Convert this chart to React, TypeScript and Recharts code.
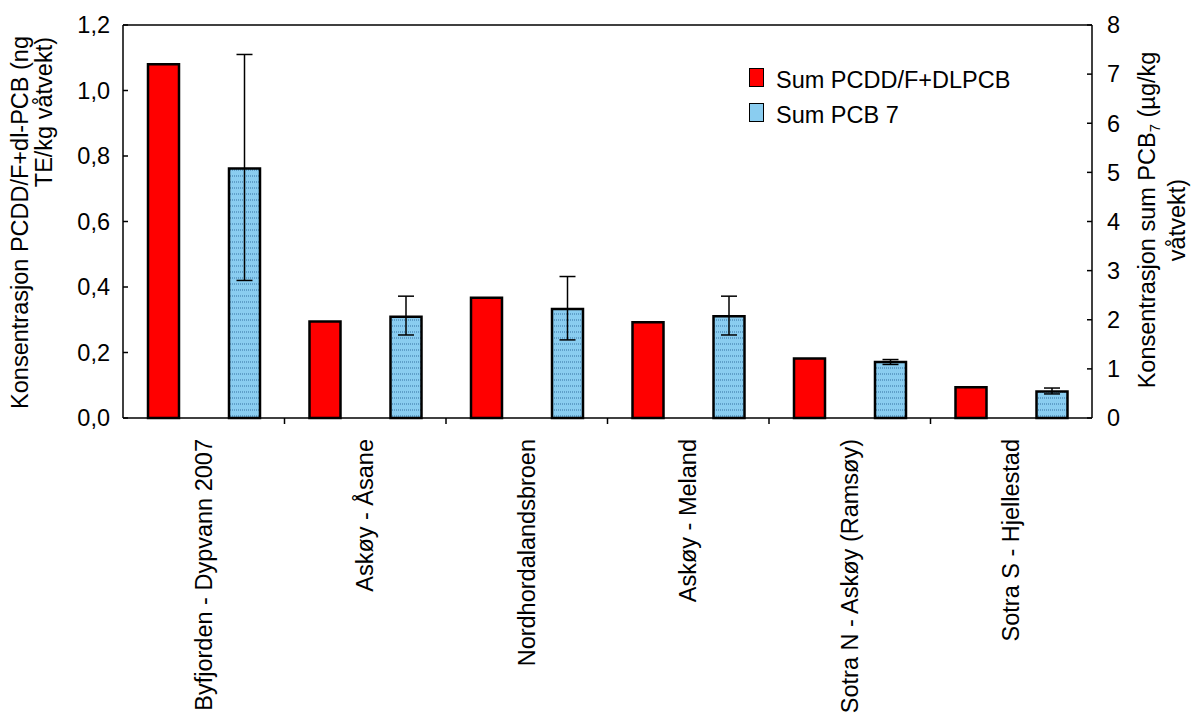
import React from "react";
import {
  ComposedChart,
  Bar,
  XAxis,
  YAxis,
  ErrorBar,
  ReferenceLine,
} from "recharts";

const categories = [
  "Byfjorden - Dypvann 2007",
  "Askøy - Åsane",
  "Nordhordalandsbroen",
  "Askøy - Meland",
  "Sotra N - Askøy (Ramsøy)",
  "Sotra S - Hjellestad",
];

// Sum PCDD/F+DLPCB (ng TE/kg våtvekt), left axis
const pcddValues = [1.08, 0.295, 0.367, 0.292, 0.182, 0.094];
// Sum PCB 7 (µg/kg våtvekt), right axis, with min/max whiskers
const pcbValues = [5.08, 2.06, 2.22, 2.07, 1.14, 0.54];
const pcbLow = [2.8, 1.69, 1.59, 1.69, 1.09, 0.49];
const pcbHigh = [7.4, 2.48, 2.88, 2.48, 1.19, 0.61];

const leftTicks = [0, 0.2, 0.4, 0.6, 0.8, 1.0, 1.2];
const rightTicks = [0, 1, 2, 3, 4, 5, 6, 7, 8];

const legendItems = [
  { label: "Sum PCDD/F+DLPCB", fill: "#ff0000" },
  { label: "Sum PCB 7", fill: "#8acdf0" },
];

const data = categories.map((name, i) => ({
  name,
  pcdd: pcddValues[i],
  pcb7: pcbValues[i],
  pcbErr: [pcbValues[i] - pcbLow[i], pcbHigh[i] - pcbValues[i]],
}));

const FONT = "Arial, 'Liberation Sans', sans-serif";
const FS = 23.5;
const PLOT_LEFT = 123;
const PLOT_RIGHT = 1092;
const BAND = (PLOT_RIGHT - PLOT_LEFT) / categories.length;

const CategoryTick = (props: any) => {
  const { x, y, payload, index } = props;
  const ty = y + 21;
  return (
    <g>
      {index < categories.length - 1 && (
        <line
          x1={x + BAND / 2}
          x2={x + BAND / 2}
          y1={y}
          y2={y + 6}
          stroke="#000"
          strokeWidth={1.5}
        />
      )}
      <text
        x={x}
        y={ty}
        transform={`rotate(-90, ${x}, ${ty})`}
        textAnchor="end"
        dy="0.35em"
        fontSize={FS}
        fontFamily={FONT}
        fill="#000"
      >
        {payload.value}
      </text>
    </g>
  );
};

const LeftTitle = () => (
  <g fontSize={FS} fontFamily={FONT} fill="#000">
    <text x={28} y={36} transform="rotate(-90, 28, 36)" textAnchor="end">
      Konsentrasjon PCDD/F+dl-PCB (ng
    </text>
    <text x={52} y={37} transform="rotate(-90, 52, 37)" textAnchor="end">
      TE/kg våtvekt)
    </text>
  </g>
);

const RightTitle = () => (
  <g fontSize={FS} fontFamily={FONT} fill="#000" style={{ whiteSpace: "pre" }}>
    <text x={1155} y={220} transform="rotate(-90, 1155, 220)" textAnchor="middle">
      <tspan>Konsentrasjon sum PCB</tspan>
      <tspan dy={5} fontSize={15}>7</tspan>
      <tspan dy={-5}>{"  (µg/kg"}</tspan>
    </text>
    <text x={1185} y={220} transform="rotate(-90, 1185, 220)" textAnchor="middle">
      våtvekt)
    </text>
  </g>
);

const LegendBox = () => (
  <div
    style={{
      position: "absolute",
      left: 749,
      top: 63,
      fontFamily: FONT,
      fontSize: FS,
      color: "#000",
    }}
  >
    {legendItems.map((item) => (
      <div
        key={item.label}
        style={{ display: "flex", alignItems: "center", height: 35 }}
      >
        <span
          style={{
            display: "inline-block",
            width: 13,
            height: 17,
            background: item.fill,
            border: "1.5px solid #000",
            marginRight: 12,
            marginTop: -6,
          }}
        />
        <span>{item.label}</span>
      </div>
    ))}
  </div>
);

export default function App() {
  return (
    <div style={{ position: "absolute", left: 0, top: 0 }}>
      <ComposedChart
        width={1193}
        height={720}
        data={data}
        margin={{ top: 25, right: 41, bottom: 22, left: 43 }}
        barSize={31}
        barGap={50}
      >
        <defs>
          <pattern id="dots" width="2" height="6" patternUnits="userSpaceOnUse">
            <rect width="2" height="6" fill="#8acdf0" />
            <rect x="0" y="1" width="1" height="2" fill="#5f9fc9" />
          </pattern>
        </defs>
        <XAxis
          dataKey="name"
          height={280}
          interval={0}
          tickLine={false}
          tickSize={0}
          tickMargin={0}
          tick={<CategoryTick />}
          axisLine={{ stroke: "#000", strokeWidth: 1.5 }}
        />
        <YAxis
          yAxisId="left"
          width={80}
          domain={[0, 1.2]}
          ticks={leftTicks}
          tickFormatter={(v: number) => v.toFixed(1).replace(".", ",")}
          tickSize={-5}
          tickMargin={18}
          tick={{ fontSize: FS, fontFamily: FONT, fill: "#000" }}
          tickLine={{ stroke: "#000", strokeWidth: 1.5 }}
          axisLine={{ stroke: "#000", strokeWidth: 1.5 }}
          label={<LeftTitle />}
        />
        <YAxis
          yAxisId="right"
          orientation="right"
          width={60}
          domain={[0, 8]}
          ticks={rightTicks}
          tickSize={-5}
          tickMargin={20}
          tick={{ fontSize: FS, fontFamily: FONT, fill: "#000", textAnchor: "start" }}
          tickLine={{ stroke: "#000", strokeWidth: 1.5 }}
          axisLine={{ stroke: "#000", strokeWidth: 1.5 }}
          label={<RightTitle />}
        />
        <ReferenceLine yAxisId="left" y={1.2} stroke="#000" strokeWidth={1.5} />
        <Bar
          yAxisId="left"
          dataKey="pcdd"
          name="Sum PCDD/F+DLPCB"
          fill="#ff0000"
          stroke="#000"
          strokeWidth={2.5}
          isAnimationActive={false}
        />
        <Bar
          yAxisId="right"
          dataKey="pcb7"
          name="Sum PCB 7"
          fill="url(#dots)"
          stroke="#000"
          strokeWidth={2.5}
          isAnimationActive={false}
        >
          <ErrorBar
            dataKey="pcbErr"
            width={8}
            stroke="#000"
            strokeWidth={1.5}
            isAnimationActive={false}
          />
        </Bar>
      </ComposedChart>
      <LegendBox />
    </div>
  );
}
